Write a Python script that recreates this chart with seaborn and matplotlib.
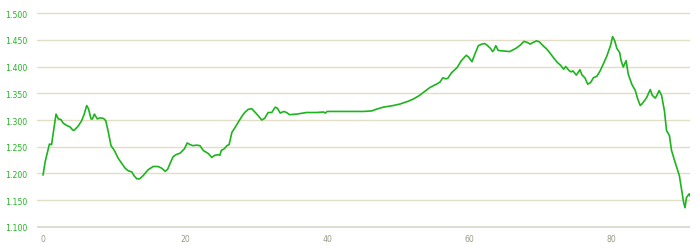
import matplotlib
matplotlib.use("Agg")
import matplotlib.pyplot as plt
import seaborn as sns
import pandas as pd

dist = [0.0, 0.3, 0.9, 1.2, 1.83, 2.16, 2.5, 2.85, 3.3, 3.8, 4.2, 4.4, 4.97, 5.45, 5.8, 6.15, 6.4,
        6.76, 6.95, 7.23, 7.65, 8.0, 8.5, 8.83, 9.2, 9.57, 10.04, 10.6, 11.08, 11.55, 12.0, 12.5,
        12.8, 13.2, 13.6, 14.1, 14.8, 15.5, 16.2, 16.7, 17.2, 17.55, 17.9, 18.3, 18.7, 19.3, 19.9,
        20.3, 20.7, 21.1, 21.6, 22.1, 22.57, 22.95, 23.3, 23.75, 24.2, 24.6, 24.9, 25.1, 25.5,
        25.9, 26.2, 26.6, 27.04, 27.5, 28.0, 28.4, 28.9, 29.4, 30.1, 30.8, 31.2, 31.7, 32.2,
        32.7, 33.0, 33.4, 33.9, 34.3, 34.7, 35.7, 37.1, 38.5, 39.5, 39.75, 40.0, 41.4, 43.2, 45.1,
        46.3, 46.9, 47.9, 49.3, 50.3, 51.4, 52.1, 52.9, 53.6, 54.5, 55.4, 55.9, 56.3, 56.7, 57.0,
        57.5, 58.3, 58.9, 59.6, 59.9, 60.4, 60.8, 61.3, 61.8, 62.2, 62.6, 63.0, 63.3, 63.5, 63.75,
        64.1, 64.9, 65.7, 66.3, 66.7, 67.2, 67.7, 68.2, 68.6, 69.0, 69.5, 69.9, 70.4, 70.9, 71.4,
        71.9, 72.4, 72.9, 73.3, 73.6, 74.1, 74.4, 74.6, 75.1, 75.3, 75.6, 75.9, 76.3, 76.7, 77.1,
        77.5, 78.0, 78.45, 78.9, 79.4, 79.9, 80.2, 80.5, 80.8, 81.2, 81.4, 81.7, 82.1, 82.4, 82.9,
        83.4, 83.75, 84.1, 84.4, 85.0, 85.5, 85.8, 86.2, 86.4, 86.75, 87.1, 87.5, 87.8, 88.2, 88.5,
        89.0, 89.6, 89.9, 90.2, 90.4, 90.6, 91.0, 91.1]
elev = [1.197, 1.222, 1.255, 1.254, 1.311, 1.302, 1.301, 1.294, 1.290, 1.287, 1.281, 1.281, 1.289,
        1.299, 1.311, 1.327, 1.321, 1.302, 1.302, 1.311, 1.302, 1.304, 1.303, 1.299, 1.277, 1.252,
        1.243, 1.228, 1.219, 1.210, 1.205, 1.203, 1.196, 1.190, 1.190, 1.196, 1.207, 1.213, 1.213,
        1.210, 1.204, 1.208, 1.219, 1.231, 1.235, 1.238, 1.246, 1.257, 1.254, 1.252, 1.253, 1.252,
        1.243, 1.240, 1.237, 1.230, 1.234, 1.235, 1.234, 1.243, 1.246, 1.252, 1.254, 1.277, 1.286,
        1.296, 1.307, 1.314, 1.320, 1.321, 1.311, 1.300, 1.303, 1.314, 1.314, 1.324, 1.322, 1.313,
        1.316, 1.314, 1.310, 1.311, 1.314, 1.314, 1.315, 1.313, 1.316, 1.316, 1.316, 1.316, 1.317,
        1.320, 1.324, 1.327, 1.330, 1.335, 1.339, 1.345, 1.352, 1.361, 1.367, 1.371, 1.379, 1.377,
        1.378, 1.388, 1.398, 1.411, 1.421, 1.418, 1.409, 1.423, 1.439, 1.442, 1.443, 1.439, 1.434,
        1.428, 1.431, 1.439, 1.430, 1.429, 1.428, 1.432, 1.435, 1.440, 1.447, 1.445, 1.442, 1.445,
        1.448, 1.446, 1.439, 1.433, 1.425, 1.416, 1.408, 1.402, 1.395, 1.400, 1.392, 1.390, 1.392,
        1.384, 1.388, 1.394, 1.384, 1.379, 1.367, 1.370, 1.379, 1.382, 1.392, 1.405, 1.420, 1.439,
        1.456, 1.448, 1.434, 1.426, 1.411, 1.399, 1.411, 1.386, 1.367, 1.355, 1.339, 1.327, 1.331,
        1.342, 1.357, 1.346, 1.341, 1.345, 1.355, 1.346, 1.317, 1.280, 1.271, 1.243, 1.221, 1.196,
        1.171, 1.146, 1.136, 1.155, 1.162, 1.158]

y_ticks = [1.100, 1.150, 1.200, 1.250, 1.300, 1.350, 1.400, 1.450, 1.500]
x_ticks = [0, 20, 40, 60, 80]

df = pd.DataFrame({"dist": dist, "elev": elev})

sns.set_theme(style="white")
fig = plt.figure(figsize=(7.0, 2.53), dpi=100)
ax = fig.add_axes([37 / 700, 1 - 229 / 253, 653 / 700, (229 - 13) / 253])

sns.lineplot(data=df, x="dist", y="elev", ax=ax, color="#1db41d", linewidth=1.2)

ax.set_xlim(-0.85, 91.1)
ax.set_ylim(1.098, 1.502)
ax.set_yticks(y_ticks)
ax.set_yticklabels([f"{v:.3f}" for v in y_ticks])
ax.set_xticks(x_ticks)
ax.set_xticklabels([str(v) for v in x_ticks])

for v in y_ticks:
    ax.axhline(v, color="#e2dec6", linewidth=1.0, zorder=0)

for s in ["top", "right", "left", "bottom"]:
    ax.spines[s].set_visible(False)
ax.axhline(1.100, color="#dcdcd0", linewidth=1.4, zorder=0)

ax.tick_params(axis="y", length=0, pad=7, labelsize=5.6, labelcolor="#22b422")
ax.tick_params(axis="x", length=0, pad=4, labelsize=5.6, labelcolor="#999988")
ax.set_xlabel("")
ax.set_ylabel("")
ax.grid(False)

fig.savefig("out.png", dpi=100)
